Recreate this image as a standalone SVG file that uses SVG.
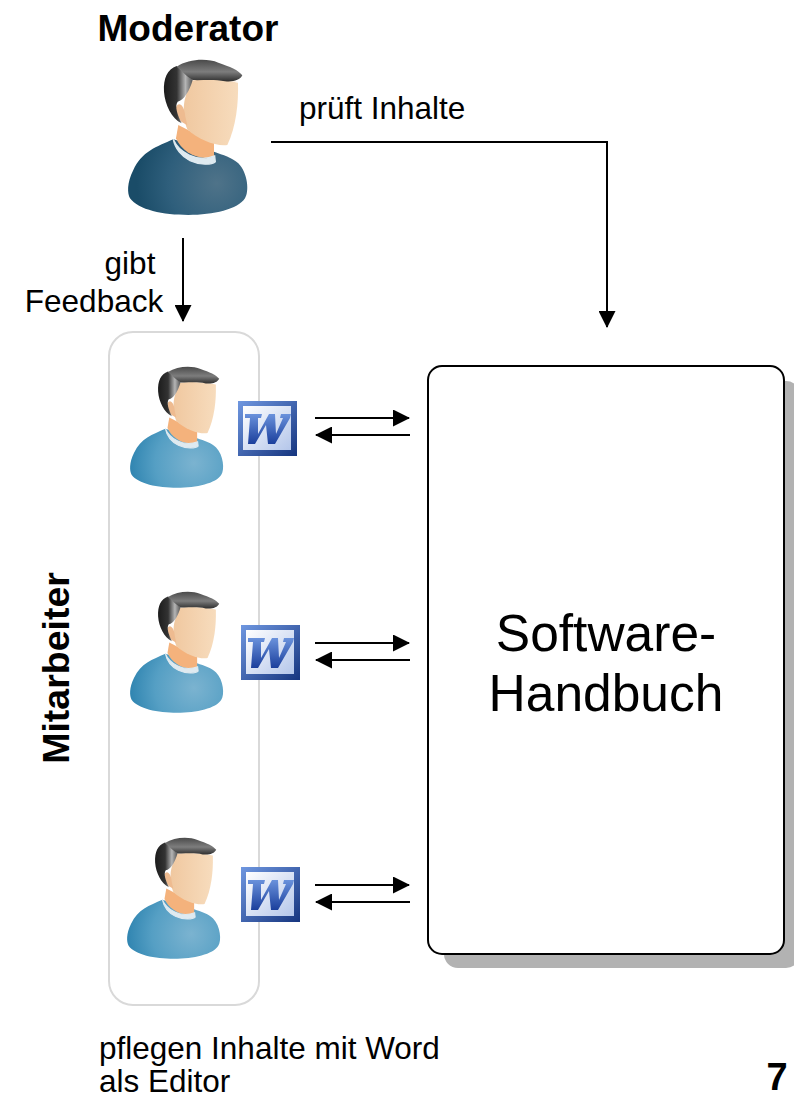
<svg xmlns="http://www.w3.org/2000/svg" width="794" height="1099" viewBox="0 0 794 1099">
<style>
text{font-family:"Liberation Sans",Arial,sans-serif;fill:#000}
.l{font-size:31.5px}
.b{font-size:37px;font-weight:bold}
.h{font-size:51.5px}
.c{stroke:#000;stroke-width:2;fill:none}
</style>
<defs>
<radialGradient id="dark" gradientUnits="userSpaceOnUse" cx="320" cy="400" r="240"><stop offset="0" stop-color="#4f7389"/><stop offset=".6" stop-color="#2f5f7c"/><stop offset="1" stop-color="#1a4c68"/></radialGradient>
<radialGradient id="blue" gradientUnits="userSpaceOnUse" cx="300" cy="400" r="250"><stop offset="0" stop-color="#7bb3d0"/><stop offset=".6" stop-color="#559fc4"/><stop offset="1" stop-color="#2f84b0"/></radialGradient>
<linearGradient id="skin" x1="0" y1="0" x2="1" y2="0"><stop offset="0" stop-color="#f0c8a0"/><stop offset="1" stop-color="#f7dcbd"/></linearGradient>
<linearGradient id="hair" x1="0" y1="0" x2="1" y2="0"><stop offset="0" stop-color="#1c1c1c"/><stop offset=".45" stop-color="#333"/><stop offset=".75" stop-color="#b5b5b5"/><stop offset="1" stop-color="#555"/></linearGradient>
<linearGradient id="hair2" x1="0" y1="0" x2="0" y2="1"><stop offset="0" stop-color="#4a4a4a"/><stop offset=".55" stop-color="#7d7d7d"/><stop offset="1" stop-color="#2e2e2e"/></linearGradient>
<linearGradient id="wf" x1="0" y1="0" x2="1" y2="1"><stop offset="0" stop-color="#6f97e0"/><stop offset="1" stop-color="#16357f"/></linearGradient>
<linearGradient id="wi" x1="0" y1="0" x2="1" y2="1"><stop offset="0" stop-color="#fff"/><stop offset="1" stop-color="#b4c6ea"/></linearGradient>
<linearGradient id="wl" x1="0" y1="0" x2="0" y2="1"><stop offset="0" stop-color="#6a92dc"/><stop offset="1" stop-color="#1b3f9c"/></linearGradient>
<path id="body" d="M190 268C140 290 95 305 70 360C50 400 52 430 60 445C85 480 160 495 235 495C310 495 385 478 405 445C418 425 414 370 385 340C365 322 340 315 312 305Z"/>
<g id="head">
<path d="M205 225L198 265C215 305 265 335 312 320L312 280Z" fill="#f4b27c"/>
<path d="M190 268C205 305 260 340 314 318L316 335C305 345 270 346 240 332C215 320 195 295 190 268Z" fill="#dfeaf0" stroke="#dfeaf0" stroke-width="4"/>
<path d="M240 92C290 85 345 90 384 98C386 160 378 230 352 285C320 290 265 270 232 238C222 215 218 180 224 150Z" fill="url(#skin)"/>
<path d="M198 172C205 152 224 165 226 200L232 226L214 215C204 205 196 190 198 172Z" fill="#eebb90"/>
<path d="M200 48C172 58 160 85 162 125C165 165 185 205 215 220C203 195 193 170 203 155C222 150 238 125 248 90Z" fill="url(#hair)"/>
<path d="M200 50C235 27 290 24 325 38C360 50 385 60 397 76C390 90 370 97 345 94C310 86 275 92 248 90C225 75 215 62 200 50Z" fill="url(#hair2)"/>
</g>
<g id="word">
<rect width="59" height="55" fill="url(#wf)"/>
<rect x="5" y="5" width="48" height="44" fill="url(#wi)"/>
<path d="M7 13H24L23 17H20L20 33L31 13H37L38 33L45 17H42L43 13H53L52 17L37 43H30L28 24L17 43H10L12 17H7Z" fill="url(#wl)"/>
</g>
<marker id="ah" markerWidth="17" markerHeight="17" refX="16" refY="8.5" orient="auto" markerUnits="userSpaceOnUse"><path d="M0 0L17 8.5L0 17Z" fill="#000"/></marker>
</defs>

<g id="mitarbeiter-box"><rect x="109" y="332" width="150" height="673" rx="24" fill="none" stroke="#d9d9d9" stroke-width="2"/></g>

<g id="handbuch">
<rect x="444" y="381" width="356" height="587" rx="14" fill="#b2b2b2"/>
<rect x="428" y="366" width="356" height="588" rx="14" fill="#fff" stroke="#000" stroke-width="2"/>
<text class="h" x="606" y="651" text-anchor="middle">Software-</text>
<text class="h" x="606" y="711" text-anchor="middle">Handbuch</text>
</g>

<g id="moderator">
<text class="b" x="188" y="41" text-anchor="middle">Moderator</text>
<g transform="translate(110 50) scale(.3333)"><use href="#body" fill="url(#dark)"/><use href="#head"/></g>
</g>

<g id="mitarbeiter-1">
<g transform="translate(116 359) scale(.26)"><use href="#body" fill="url(#blue)"/><use href="#head"/></g>
<use href="#word" x="238" y="401"/>
</g>
<g id="mitarbeiter-2">
<g transform="translate(116 584) scale(.26)"><use href="#body" fill="url(#blue)"/><use href="#head"/></g>
<use href="#word" x="241" y="625"/>
</g>
<g id="mitarbeiter-3">
<g transform="translate(113 830) scale(.26)"><use href="#body" fill="url(#blue)"/><use href="#head"/></g>
<use href="#word" x="241" y="867"/>
</g>

<g id="connectors">
<path class="c" d="M271 142H607V327" marker-end="url(#ah)"/>
<path class="c" d="M183 238V321" marker-end="url(#ah)"/>
<path class="c" d="M315 418H409" marker-end="url(#ah)"/>
<path class="c" d="M410 435H316" marker-end="url(#ah)"/>
<path class="c" d="M315 643H409" marker-end="url(#ah)"/>
<path class="c" d="M410 660H316" marker-end="url(#ah)"/>
<path class="c" d="M315 885H409" marker-end="url(#ah)"/>
<path class="c" d="M410 902H316" marker-end="url(#ah)"/>
</g>

<g id="labels">
<text class="l" x="299" y="119">prüft Inhalte</text>
<text class="l" x="130" y="274" text-anchor="middle">gibt</text>
<text class="l" x="94" y="312" text-anchor="middle">Feedback</text>
<text class="b" transform="translate(69 668) rotate(-90)" text-anchor="middle" style="font-size:37.5px">Mitarbeiter</text>
<text class="l" x="99" y="1059">pflegen Inhalte mit Word</text>
<text class="l" x="99" y="1092">als Editor</text>
<text x="777" y="1090" text-anchor="middle" style="font-size:38px;font-weight:bold">7</text>
</g>
</svg>
